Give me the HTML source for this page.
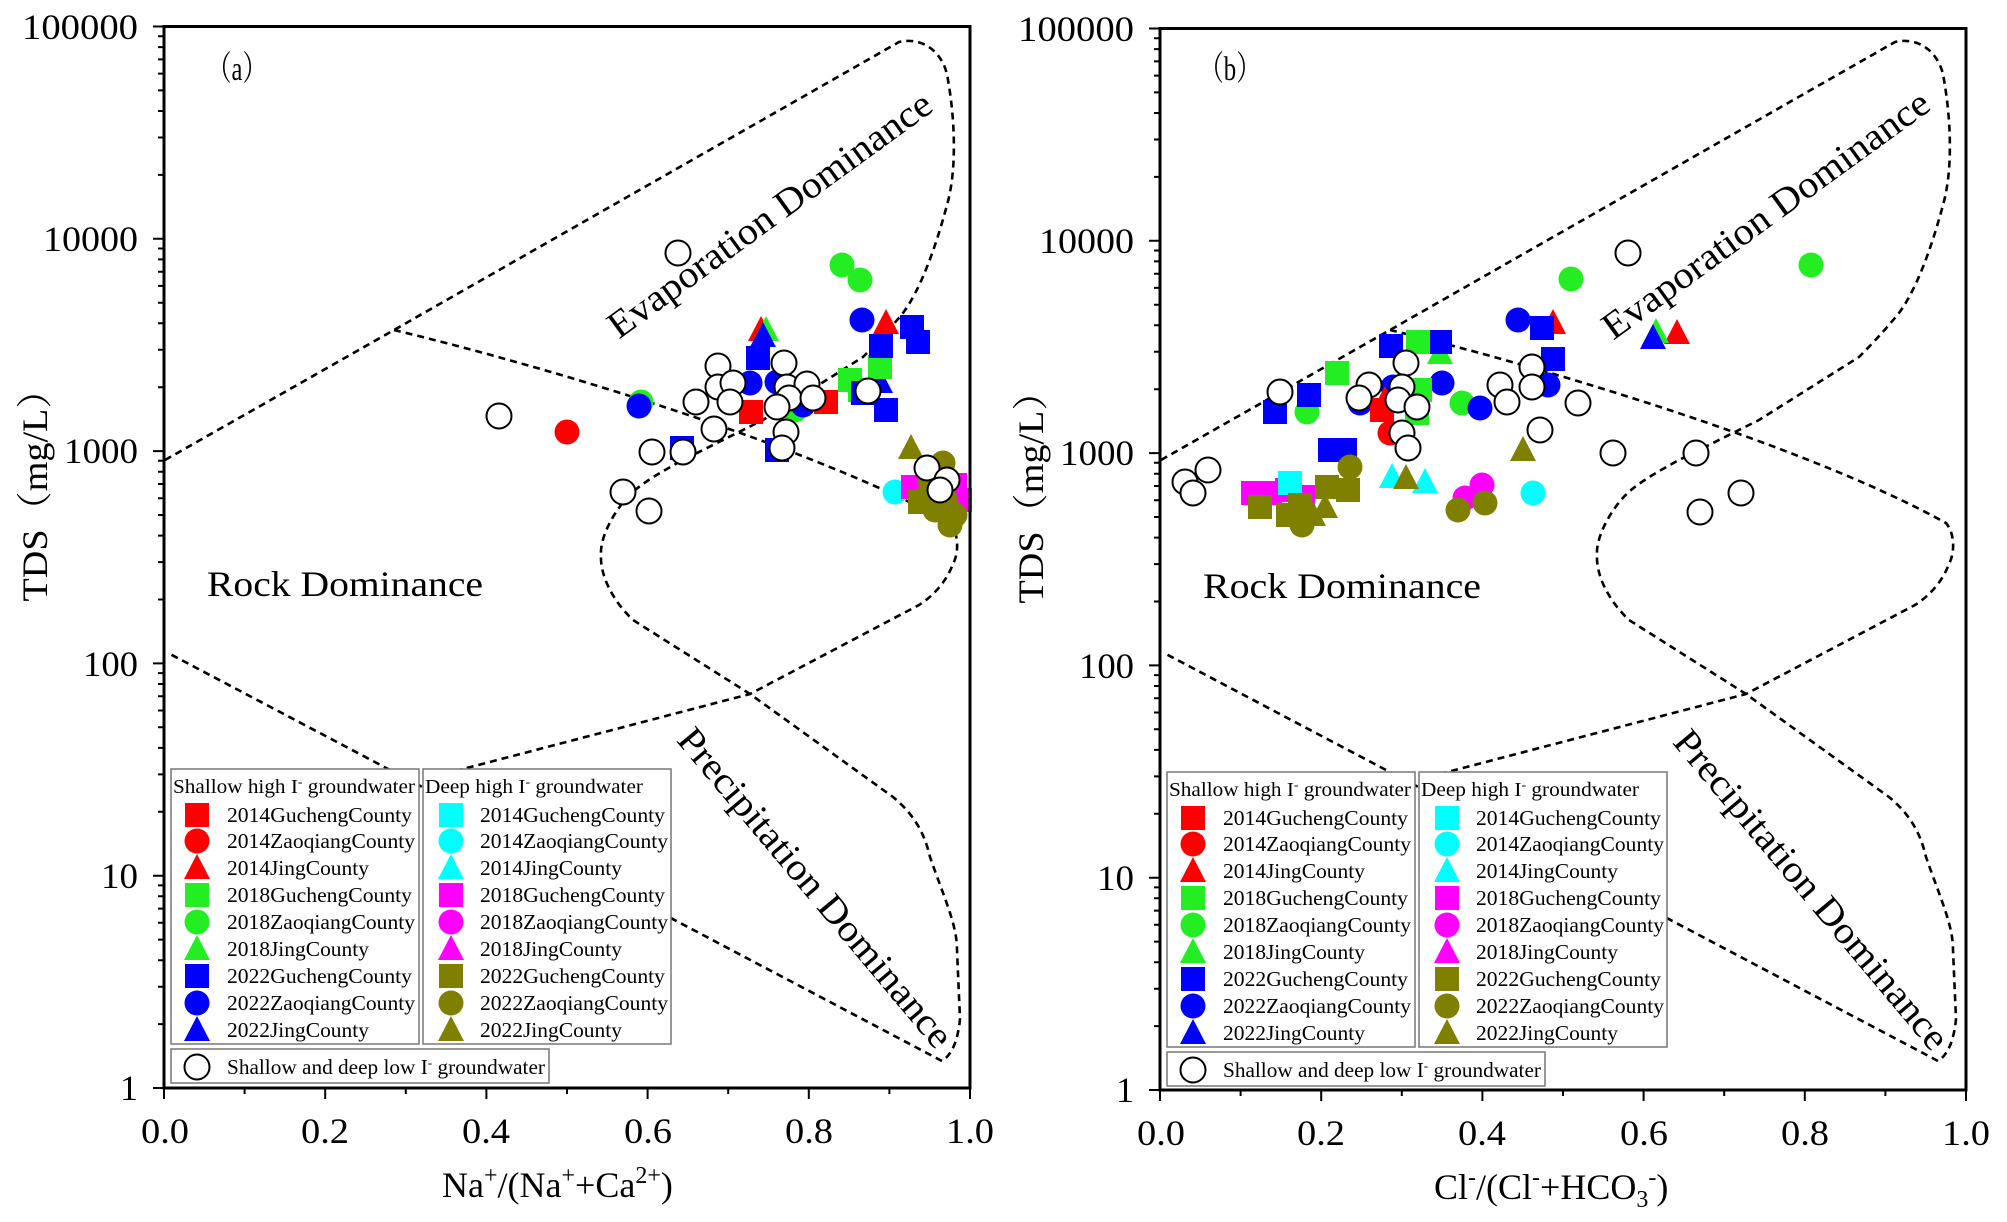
<!DOCTYPE html>
<html><head><meta charset="utf-8"><style>
html,body{margin:0;padding:0;background:#fff}
svg{display:block}
text{font-family:"Liberation Serif","Noto Serif CJK SC",serif;fill:#000}
</style></head><body>
<svg width="2007" height="1222" viewBox="0 0 2007 1222" xmlns="http://www.w3.org/2000/svg">
<defs>
<rect id="sq" x="-12" y="-12" width="24" height="24"/>
<circle id="ci" r="12.5"/>
<polygon id="tr" points="0,-14 13,11 -13,11"/>
<circle id="oc" r="12.5" fill="#fff" stroke="#000" stroke-width="2"/>
<g id="curves" fill="none" stroke="#000" stroke-width="2.6" stroke-dasharray="7 5">
<path d="M165,460 L394,330 L899,42 C925,36 945,55 948,80 C955,120 957,170 947,205 C935,250 920,290 903,313 C885,335 870,350 863,357 L763,420 L683,460 C650,478 635,488 625,500 C610,518 600,540 601,555 C600,575 612,600 633,620 L750,694 L893,797 C915,815 925,835 930,857 C945,900 957,925 957,950 L960,1019 C958,1040 952,1055 942,1061 L170,654"/>
<path d="M394,330 C520,360 800,440 950,523 C960,535 958,555 953,564 C945,585 930,598 919,605 L750,694 L440,775"/>
</g>
<path id="dec" d="M0 0h-11M0 -63.9h-6M0 -101.3h-6M0 -127.8h-6M0 -148.4h-6M0 -165.2h-6M0 -179.4h-6M0 -191.7h-6M0 -202.6h-6" stroke="#000" stroke-width="2"/>
<g id="axes">
<g stroke="#000" stroke-width="2" fill="none">
<path d="M164,1088 v11 M325.2,1088 v11 M486.4,1088 v11 M647.6,1088 v11 M808.8,1088 v11 M970,1088 v11 M244.6,1088 v6 M405.8,1088 v6 M567,1088 v6 M728.2,1088 v6 M889.4,1088 v6 M164,26.5 h-11"/>
</g>
<use href="#dec" x="164" y="1088"/><use href="#dec" x="164" y="875.7"/><use href="#dec" x="164" y="663.4"/><use href="#dec" x="164" y="451.1"/><use href="#dec" x="164" y="238.8"/>
<rect x="164" y="26.5" width="806" height="1061.5" fill="none" stroke="#000" stroke-width="3"/>
</g>
<g id="leg">
<rect x="171" y="769" width="248" height="275" fill="#fff" stroke="#777" stroke-width="1.5"/>
<rect x="423" y="769" width="248" height="275" fill="#fff" stroke="#777" stroke-width="1.5"/>
<rect x="171" y="1049" width="378" height="34" fill="#fff" stroke="#777" stroke-width="1.5"/>
<use href="#sq" x="197" y="815" fill="#ff0000"/><use href="#ci" x="197" y="841" fill="#ff0000"/><use href="#tr" x="197" y="868" fill="#ff0000"/>
<use href="#sq" x="197" y="895" fill="#22ee22"/><use href="#ci" x="197" y="922" fill="#22ee22"/><use href="#tr" x="197" y="949" fill="#22ee22"/>
<use href="#sq" x="197" y="976" fill="#0000ff"/><use href="#ci" x="197" y="1003" fill="#0000ff"/><use href="#tr" x="197" y="1030" fill="#0000ff"/>
<use href="#sq" x="451" y="815" fill="#00ffff"/><use href="#ci" x="451" y="841" fill="#00ffff"/><use href="#tr" x="451" y="868" fill="#00ffff"/>
<use href="#sq" x="451" y="895" fill="#ff00ff"/><use href="#ci" x="451" y="922" fill="#ff00ff"/><use href="#tr" x="451" y="949" fill="#ff00ff"/>
<use href="#sq" x="451" y="976" fill="#808000"/><use href="#ci" x="451" y="1003" fill="#808000"/><use href="#tr" x="451" y="1030" fill="#808000"/>
<use href="#oc" x="197" y="1067"/>
</g>
</defs>

<use href="#curves"/>
<g>
<use href="#ci" x="842" y="265" fill="#22ee22"/><use href="#ci" x="860" y="280" fill="#22ee22"/><use href="#ci" x="795" y="410" fill="#22ee22"/><use href="#ci" x="641" y="402" fill="#22ee22"/>
<use href="#ci" x="862" y="320" fill="#0000ff"/><use href="#ci" x="750" y="383" fill="#0000ff"/><use href="#ci" x="777" y="382" fill="#0000ff"/><use href="#ci" x="803" y="405" fill="#0000ff"/><use href="#ci" x="639" y="406" fill="#0000ff"/>
<use href="#ci" x="567" y="432" fill="#ff0000"/>
<use href="#tr" x="761" y="330" fill="#ff0000"/><use href="#tr" x="766" y="330" fill="#22ee22"/><use href="#tr" x="763" y="336" fill="#0000ff"/><use href="#tr" x="886" y="323" fill="#ff0000"/><use href="#tr" x="880" y="382" fill="#0000ff"/>
<use href="#sq" x="850" y="380" fill="#22ee22"/><use href="#sq" x="880" y="367" fill="#22ee22"/><use href="#sq" x="860" y="390" fill="#22ee22"/>
<use href="#sq" x="912" y="327" fill="#0000ff"/><use href="#sq" x="918" y="342" fill="#0000ff"/><use href="#sq" x="881" y="346" fill="#0000ff"/><use href="#sq" x="758" y="358" fill="#0000ff"/><use href="#sq" x="886" y="410" fill="#0000ff"/><use href="#sq" x="863" y="393" fill="#0000ff"/><use href="#sq" x="777" y="450" fill="#0000ff"/><use href="#sq" x="682" y="448" fill="#0000ff"/>
<use href="#sq" x="751" y="412" fill="#ff0000"/><use href="#sq" x="826" y="402" fill="#ff0000"/>
<use href="#ci" x="895" y="492" fill="#00ffff"/>
<use href="#sq" x="913" y="487" fill="#ff00ff"/><use href="#sq" x="960" y="500" fill="#ff00ff"/><use href="#sq" x="955" y="485" fill="#ff00ff"/><use href="#ci" x="925" y="485" fill="#ff00ff"/>
<use href="#tr" x="911" y="448" fill="#808000"/>
<use href="#ci" x="943" y="463" fill="#808000"/><use href="#ci" x="930" y="480" fill="#808000"/><use href="#ci" x="945" y="500" fill="#808000"/><use href="#ci" x="955" y="515" fill="#808000"/><use href="#ci" x="935" y="510" fill="#808000"/><use href="#ci" x="950" y="525" fill="#808000"/><use href="#ci" x="925" y="498" fill="#808000"/>
<use href="#sq" x="940" y="505" fill="#808000"/><use href="#sq" x="920" y="502" fill="#808000"/>
<use href="#oc" x="678" y="253"/><use href="#oc" x="718" y="366"/><use href="#oc" x="718" y="387"/><use href="#oc" x="733" y="383"/><use href="#oc" x="730" y="402"/><use href="#oc" x="696" y="402"/><use href="#oc" x="784" y="363"/><use href="#oc" x="787" y="387"/><use href="#oc" x="807" y="384"/><use href="#oc" x="789" y="398"/><use href="#oc" x="777" y="407"/><use href="#oc" x="813" y="398"/><use href="#oc" x="868" y="391"/><use href="#oc" x="714" y="429"/><use href="#oc" x="786" y="432"/><use href="#oc" x="782" y="448"/><use href="#oc" x="652" y="452"/><use href="#oc" x="683" y="452"/><use href="#oc" x="623" y="492"/><use href="#oc" x="649" y="511"/><use href="#oc" x="499" y="416"/><use href="#oc" x="927" y="468"/><use href="#oc" x="947" y="480"/><use href="#oc" x="940" y="490"/>
</g>
<use href="#leg"/>
<use href="#axes"/>

<g transform="translate(996,0)"><use href="#curves"/></g>
<g>
<use href="#ci" x="1571" y="279" fill="#22ee22"/><use href="#ci" x="1811" y="265" fill="#22ee22"/><use href="#ci" x="1307" y="412" fill="#22ee22"/><use href="#ci" x="1462" y="403" fill="#22ee22"/>
<use href="#ci" x="1518" y="320" fill="#0000ff"/><use href="#ci" x="1442" y="383" fill="#0000ff"/><use href="#ci" x="1480" y="408" fill="#0000ff"/><use href="#ci" x="1393" y="387" fill="#0000ff"/><use href="#ci" x="1360" y="403" fill="#0000ff"/><use href="#ci" x="1548" y="385" fill="#0000ff"/>
<use href="#tr" x="1553" y="323" fill="#ff0000"/><use href="#tr" x="1677" y="333" fill="#ff0000"/><use href="#tr" x="1385" y="400" fill="#ff0000"/>
<use href="#tr" x="1440" y="353" fill="#22ee22"/><use href="#tr" x="1656" y="332" fill="#22ee22"/><use href="#tr" x="1653" y="338" fill="#0000ff"/>
<use href="#sq" x="1542" y="328" fill="#0000ff"/><use href="#sq" x="1553" y="359" fill="#0000ff"/><use href="#sq" x="1391" y="346" fill="#0000ff"/><use href="#sq" x="1440" y="342" fill="#0000ff"/><use href="#sq" x="1309" y="395" fill="#0000ff"/><use href="#sq" x="1275" y="412" fill="#0000ff"/><use href="#sq" x="1330" y="450" fill="#0000ff"/><use href="#sq" x="1345" y="450" fill="#0000ff"/>
<use href="#sq" x="1418" y="342" fill="#22ee22"/><use href="#sq" x="1337" y="373" fill="#22ee22"/><use href="#sq" x="1417" y="413" fill="#22ee22"/><use href="#sq" x="1420" y="390" fill="#22ee22"/>
<use href="#sq" x="1382" y="410" fill="#ff0000"/><use href="#ci" x="1390" y="433" fill="#ff0000"/>
<use href="#sq" x="1253" y="493" fill="#ff00ff"/><use href="#sq" x="1270" y="493" fill="#ff00ff"/><use href="#sq" x="1287" y="490" fill="#ff00ff"/><use href="#sq" x="1303" y="497" fill="#ff00ff"/><use href="#sq" x="1290" y="483" fill="#00ffff"/>
<use href="#sq" x="1260" y="507" fill="#808000"/><use href="#sq" x="1288" y="515" fill="#808000"/><use href="#sq" x="1327" y="487" fill="#808000"/><use href="#sq" x="1348" y="490" fill="#808000"/><use href="#sq" x="1300" y="505" fill="#808000"/>
<use href="#ci" x="1350" y="467" fill="#808000"/><use href="#ci" x="1302" y="525" fill="#808000"/>
<use href="#tr" x="1325" y="507" fill="#808000"/><use href="#tr" x="1313" y="515" fill="#808000"/>
<use href="#tr" x="1392" y="477" fill="#00ffff"/><use href="#tr" x="1425" y="482" fill="#00ffff"/><use href="#tr" x="1406" y="478" fill="#808000"/><use href="#tr" x="1523" y="450" fill="#808000"/>
<use href="#ci" x="1482" y="485" fill="#ff00ff"/><use href="#ci" x="1465" y="498" fill="#ff00ff"/><use href="#ci" x="1458" y="510" fill="#808000"/><use href="#ci" x="1485" y="503" fill="#808000"/>
<use href="#ci" x="1533" y="493" fill="#00ffff"/>
<use href="#oc" x="1628" y="253"/><use href="#oc" x="1406" y="363"/><use href="#oc" x="1280" y="392"/><use href="#oc" x="1369" y="385"/><use href="#oc" x="1359" y="398"/><use href="#oc" x="1402" y="387"/><use href="#oc" x="1398" y="400"/><use href="#oc" x="1417" y="407"/><use href="#oc" x="1402" y="433"/><use href="#oc" x="1408" y="448"/><use href="#oc" x="1500" y="385"/><use href="#oc" x="1507" y="402"/><use href="#oc" x="1532" y="367"/><use href="#oc" x="1532" y="387"/><use href="#oc" x="1578" y="403"/><use href="#oc" x="1540" y="430"/><use href="#oc" x="1613" y="453"/><use href="#oc" x="1185" y="482"/><use href="#oc" x="1208" y="470"/><use href="#oc" x="1193" y="493"/><use href="#oc" x="1696" y="453"/><use href="#oc" x="1700" y="512"/><use href="#oc" x="1741" y="493"/>
</g>
<g transform="translate(996,3)"><use href="#leg"/></g>
<g transform="translate(996,2)"><use href="#axes"/></g>

<g font-size="36">
<text x="138" y="39" text-anchor="end" textLength="116" lengthAdjust="spacingAndGlyphs">100000</text>
<text x="138" y="251" text-anchor="end" textLength="95" lengthAdjust="spacingAndGlyphs">10000</text>
<text x="138" y="463" text-anchor="end" textLength="74" lengthAdjust="spacingAndGlyphs">1000</text>
<text x="138" y="676" text-anchor="end" textLength="55" lengthAdjust="spacingAndGlyphs">100</text>
<text x="138" y="888" text-anchor="end" textLength="37" lengthAdjust="spacingAndGlyphs">10</text>
<text x="138" y="1100" text-anchor="end">1</text>
<text x="165" y="1143" text-anchor="middle" textLength="48" lengthAdjust="spacingAndGlyphs">0.0</text>
<text x="325" y="1143" text-anchor="middle" textLength="48" lengthAdjust="spacingAndGlyphs">0.2</text>
<text x="486" y="1143" text-anchor="middle" textLength="48" lengthAdjust="spacingAndGlyphs">0.4</text>
<text x="648" y="1143" text-anchor="middle" textLength="48" lengthAdjust="spacingAndGlyphs">0.6</text>
<text x="809" y="1143" text-anchor="middle" textLength="48" lengthAdjust="spacingAndGlyphs">0.8</text>
<text x="970" y="1143" text-anchor="middle" textLength="48" lengthAdjust="spacingAndGlyphs">1.0</text>
<text x="442" y="1197">Na<tspan font-size="24" dy="-14">+</tspan><tspan dy="14">/(Na</tspan><tspan font-size="24" dy="-14">+</tspan><tspan dy="14">+Ca</tspan><tspan font-size="24" dy="-14">2+</tspan><tspan dy="14">)</tspan></text>
<text transform="translate(47,486) rotate(-90)" text-anchor="middle" textLength="231" lengthAdjust="spacingAndGlyphs">TDS（mg/L）</text>
</g>
<text x="207" y="80" font-size="34" textLength="60" lengthAdjust="spacingAndGlyphs">（a）</text>
<text x="207" y="596" font-size="36" textLength="276" lengthAdjust="spacingAndGlyphs">Rock Dominance</text>
<text transform="translate(770,215) rotate(-36)" x="0" y="12" font-size="38" text-anchor="middle" textLength="391" lengthAdjust="spacingAndGlyphs">Evaporation Dominance</text>
<text transform="translate(815,888) rotate(50)" x="0" y="12" font-size="38" text-anchor="middle" textLength="405" lengthAdjust="spacingAndGlyphs">Precipitation Dominance</text>
<g font-size="20">
<text x="173" y="793" textLength="242" lengthAdjust="spacingAndGlyphs">Shallow high I<tspan dy="-7" font-size="13">-</tspan><tspan dy="7"> groundwater</tspan></text>
<text x="425" y="793" textLength="218" lengthAdjust="spacingAndGlyphs">Deep high I<tspan dy="-7" font-size="13">-</tspan><tspan dy="7"> groundwater</tspan></text>
</g>
<g font-size="21">
<text x="227" y="822" textLength="185" lengthAdjust="spacingAndGlyphs">2014GuchengCounty</text>
<text x="227" y="848" textLength="188" lengthAdjust="spacingAndGlyphs">2014ZaoqiangCounty</text>
<text x="227" y="875" textLength="142" lengthAdjust="spacingAndGlyphs">2014JingCounty</text>
<text x="227" y="902" textLength="185" lengthAdjust="spacingAndGlyphs">2018GuchengCounty</text>
<text x="227" y="929" textLength="188" lengthAdjust="spacingAndGlyphs">2018ZaoqiangCounty</text>
<text x="227" y="956" textLength="142" lengthAdjust="spacingAndGlyphs">2018JingCounty</text>
<text x="227" y="983" textLength="185" lengthAdjust="spacingAndGlyphs">2022GuchengCounty</text>
<text x="227" y="1010" textLength="188" lengthAdjust="spacingAndGlyphs">2022ZaoqiangCounty</text>
<text x="227" y="1037" textLength="142" lengthAdjust="spacingAndGlyphs">2022JingCounty</text>
<text x="480" y="822" textLength="185" lengthAdjust="spacingAndGlyphs">2014GuchengCounty</text>
<text x="480" y="848" textLength="188" lengthAdjust="spacingAndGlyphs">2014ZaoqiangCounty</text>
<text x="480" y="875" textLength="142" lengthAdjust="spacingAndGlyphs">2014JingCounty</text>
<text x="480" y="902" textLength="185" lengthAdjust="spacingAndGlyphs">2018GuchengCounty</text>
<text x="480" y="929" textLength="188" lengthAdjust="spacingAndGlyphs">2018ZaoqiangCounty</text>
<text x="480" y="956" textLength="142" lengthAdjust="spacingAndGlyphs">2018JingCounty</text>
<text x="480" y="983" textLength="185" lengthAdjust="spacingAndGlyphs">2022GuchengCounty</text>
<text x="480" y="1010" textLength="188" lengthAdjust="spacingAndGlyphs">2022ZaoqiangCounty</text>
<text x="480" y="1037" textLength="142" lengthAdjust="spacingAndGlyphs">2022JingCounty</text>
<text x="227" y="1074" textLength="318" lengthAdjust="spacingAndGlyphs">Shallow and deep low I<tspan dy="-7" font-size="13">-</tspan><tspan dy="7"> groundwater</tspan></text>
</g>

<g transform="translate(996,2)">
<g font-size="36">
<text x="138" y="39" text-anchor="end" textLength="116" lengthAdjust="spacingAndGlyphs">100000</text>
<text x="138" y="251" text-anchor="end" textLength="95" lengthAdjust="spacingAndGlyphs">10000</text>
<text x="138" y="463" text-anchor="end" textLength="74" lengthAdjust="spacingAndGlyphs">1000</text>
<text x="138" y="676" text-anchor="end" textLength="55" lengthAdjust="spacingAndGlyphs">100</text>
<text x="138" y="888" text-anchor="end" textLength="37" lengthAdjust="spacingAndGlyphs">10</text>
<text x="138" y="1100" text-anchor="end">1</text>
<text x="165" y="1143" text-anchor="middle" textLength="48" lengthAdjust="spacingAndGlyphs">0.0</text>
<text x="325" y="1143" text-anchor="middle" textLength="48" lengthAdjust="spacingAndGlyphs">0.2</text>
<text x="486" y="1143" text-anchor="middle" textLength="48" lengthAdjust="spacingAndGlyphs">0.4</text>
<text x="648" y="1143" text-anchor="middle" textLength="48" lengthAdjust="spacingAndGlyphs">0.6</text>
<text x="809" y="1143" text-anchor="middle" textLength="48" lengthAdjust="spacingAndGlyphs">0.8</text>
<text x="970" y="1143" text-anchor="middle" textLength="48" lengthAdjust="spacingAndGlyphs">1.0</text>
<text x="438" y="1197">Cl<tspan font-size="24" dy="-14">-</tspan><tspan dy="14">/(Cl</tspan><tspan font-size="24" dy="-14">-</tspan><tspan dy="14">+HCO</tspan><tspan font-size="24" dy="8">3</tspan><tspan font-size="24" dy="-22">-</tspan><tspan dy="14">)</tspan></text>
<text transform="translate(47,486) rotate(-90)" text-anchor="middle" textLength="231" lengthAdjust="spacingAndGlyphs">TDS（mg/L）</text>
</g>
</g>
<text x="1199" y="80" font-size="34" textLength="62" lengthAdjust="spacingAndGlyphs">（b）</text>
<text x="1203" y="598" font-size="36" textLength="278" lengthAdjust="spacingAndGlyphs">Rock Dominance</text>
<text transform="translate(1766,215) rotate(-36)" x="0" y="12" font-size="38" text-anchor="middle" textLength="395" lengthAdjust="spacingAndGlyphs">Evaporation Dominance</text>
<text transform="translate(1811,890) rotate(50)" x="0" y="12" font-size="38" text-anchor="middle" textLength="405" lengthAdjust="spacingAndGlyphs">Precipitation Dominance</text>
<g transform="translate(996,3)">
<g font-size="20">
<text x="173" y="793" textLength="242" lengthAdjust="spacingAndGlyphs">Shallow high I<tspan dy="-7" font-size="13">-</tspan><tspan dy="7"> groundwater</tspan></text>
<text x="425" y="793" textLength="218" lengthAdjust="spacingAndGlyphs">Deep high I<tspan dy="-7" font-size="13">-</tspan><tspan dy="7"> groundwater</tspan></text>
</g>
<g font-size="21">
<text x="227" y="822" textLength="185" lengthAdjust="spacingAndGlyphs">2014GuchengCounty</text>
<text x="227" y="848" textLength="188" lengthAdjust="spacingAndGlyphs">2014ZaoqiangCounty</text>
<text x="227" y="875" textLength="142" lengthAdjust="spacingAndGlyphs">2014JingCounty</text>
<text x="227" y="902" textLength="185" lengthAdjust="spacingAndGlyphs">2018GuchengCounty</text>
<text x="227" y="929" textLength="188" lengthAdjust="spacingAndGlyphs">2018ZaoqiangCounty</text>
<text x="227" y="956" textLength="142" lengthAdjust="spacingAndGlyphs">2018JingCounty</text>
<text x="227" y="983" textLength="185" lengthAdjust="spacingAndGlyphs">2022GuchengCounty</text>
<text x="227" y="1010" textLength="188" lengthAdjust="spacingAndGlyphs">2022ZaoqiangCounty</text>
<text x="227" y="1037" textLength="142" lengthAdjust="spacingAndGlyphs">2022JingCounty</text>
<text x="480" y="822" textLength="185" lengthAdjust="spacingAndGlyphs">2014GuchengCounty</text>
<text x="480" y="848" textLength="188" lengthAdjust="spacingAndGlyphs">2014ZaoqiangCounty</text>
<text x="480" y="875" textLength="142" lengthAdjust="spacingAndGlyphs">2014JingCounty</text>
<text x="480" y="902" textLength="185" lengthAdjust="spacingAndGlyphs">2018GuchengCounty</text>
<text x="480" y="929" textLength="188" lengthAdjust="spacingAndGlyphs">2018ZaoqiangCounty</text>
<text x="480" y="956" textLength="142" lengthAdjust="spacingAndGlyphs">2018JingCounty</text>
<text x="480" y="983" textLength="185" lengthAdjust="spacingAndGlyphs">2022GuchengCounty</text>
<text x="480" y="1010" textLength="188" lengthAdjust="spacingAndGlyphs">2022ZaoqiangCounty</text>
<text x="480" y="1037" textLength="142" lengthAdjust="spacingAndGlyphs">2022JingCounty</text>
<text x="227" y="1074" textLength="318" lengthAdjust="spacingAndGlyphs">Shallow and deep low I<tspan dy="-7" font-size="13">-</tspan><tspan dy="7"> groundwater</tspan></text>
</g>
</g>
</svg>
</body></html>
